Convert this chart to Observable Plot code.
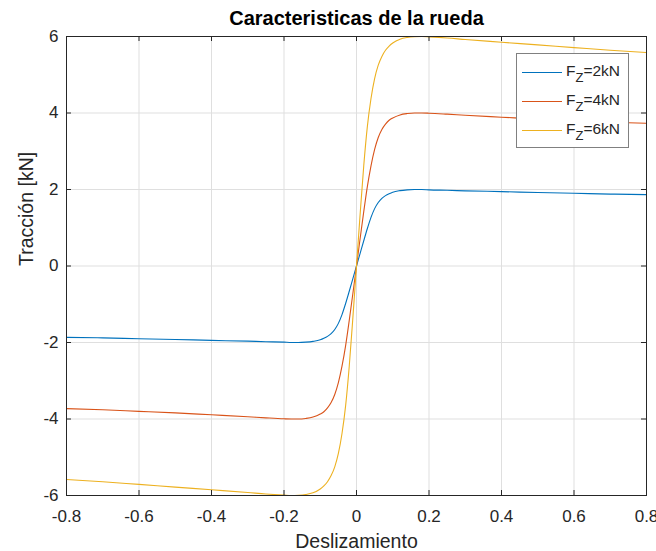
<!DOCTYPE html>
<html>
<head>
<meta charset="utf-8">
<script src="https://cdn.jsdelivr.net/npm/d3@7"></script>
<script src="https://cdn.jsdelivr.net/npm/@observablehq/plot@0.6"></script>
<style>
  html, body { margin: 0; padding: 0; background: #fff; }
  #wrap { position: relative; width: 656px; height: 551px; font-family: "Liberation Sans", Arial, Helvetica, sans-serif; }
  #legend { position: absolute; left: 516px; top: 53px; width: 113px; height: 95px; border: 1px solid #808080; background: #fff; box-sizing: border-box; }
  .row { position: absolute; left: 0; height: 22px; width: 112px; }
  .sw { position: absolute; left: 5px; top: 10px; width: 40px; height: 0; border-top: 1px solid; }
  .lab { position: absolute; left: 49px; top: 0px; font-size: 15.5px; color: #262626; white-space: nowrap; line-height: 18px; }
  .lab sub { font-size: 13px; vertical-align: -6px; line-height: 0; }
</style>
</head>
<body>
<div id="wrap"></div>
<script>
const slip = [-0.8,-0.7,-0.6,-0.5,-0.4,-0.3,-0.25,-0.2,-0.18,-0.16,-0.14,-0.12,-0.1,-0.09,-0.08,-0.07,-0.06,-0.05,-0.04,-0.03,-0.02,-0.01,
  0,
  0.01,0.02,0.03,0.04,0.05,0.06,0.07,0.08,0.09,0.1,0.12,0.14,0.16,0.18,0.2,0.25,0.3,0.4,0.5,0.6,0.7,0.8];
const fz2 = [-1.865,-1.88,-1.90,-1.92,-1.945,-1.965,-1.98,-1.99,-2.00,-2.00,-1.99,-1.97,-1.93,-1.89,-1.84,-1.77,-1.66,-1.50,-1.27,-0.98,-0.66,-0.33,
  0,
  0.33,0.66,0.98,1.27,1.50,1.66,1.77,1.84,1.89,1.93,1.97,1.99,2.00,2.00,1.99,1.98,1.965,1.945,1.92,1.90,1.88,1.865];
const fz4 = [-3.73,-3.76,-3.80,-3.84,-3.89,-3.94,-3.97,-3.995,-4.0,-4.0,-3.985,-3.95,-3.87,-3.81,-3.71,-3.57,-3.36,-3.05,-2.62,-2.08,-1.42,-0.72,
  0,
  0.72,1.42,2.08,2.62,3.05,3.36,3.57,3.71,3.81,3.87,3.95,3.985,4.0,4.0,3.995,3.97,3.94,3.89,3.84,3.80,3.76,3.73];
const fz6 = [-5.58,-5.64,-5.71,-5.78,-5.85,-5.92,-5.96,-5.99,-6.0,-5.995,-5.975,-5.93,-5.83,-5.75,-5.64,-5.48,-5.25,-4.9,-4.38,-3.65,-2.62,-1.35,
  0,
  1.35,2.62,3.65,4.38,4.9,5.25,5.48,5.64,5.75,5.83,5.93,5.975,5.995,6.0,5.99,5.96,5.92,5.85,5.78,5.71,5.64,5.58];
const seriesNames = ["FZ=2kN", "FZ=4kN", "FZ=6kN"];
const seriesLabels = ["2kN", "4kN", "6kN"];
const seriesColors = ["#0072BD", "#D95319", "#EDB120"];
const xTicks = [-0.8,-0.6,-0.4,-0.2,0,0.2,0.4,0.6,0.8];
const yTicks = [-6,-4,-2,0,2,4,6];
const title = "Caracteristicas de la rueda";
const xLabel = "Deslizamiento";
const yLabel = "Tracción [kN]";

const allSeries = [fz2, fz4, fz6];
const data = [];
allSeries.forEach((vals, i) => slip.forEach((s, j) => data.push({slip: s, f: vals[j], series: seriesNames[i]})));

const W = 656, H = 551, mL = 66, mR = 10, mT = 36, mB = 56;
const fw = W - mL - mR, fh = H - mT - mB;
const ink = "#262626";

const chart = Plot.plot({
  width: W, height: H,
  marginLeft: mL, marginRight: mR, marginTop: mT, marginBottom: mB,
  style: {fontFamily: '"Liberation Sans", Arial, Helvetica, sans-serif', background: "#fff", overflow: "visible"},
  x: {domain: [-0.8, 0.8], ticks: xTicks},
  y: {domain: [-6, 6], ticks: yTicks},
  color: {domain: seriesNames, range: seriesColors},
  marks: [
    Plot.gridX(xTicks, {stroke: "#dfdfdf", strokeOpacity: 1}),
    Plot.gridY(yTicks, {stroke: "#dfdfdf", strokeOpacity: 1}),
    Plot.line(data, {x: "slip", y: "f", stroke: "series", strokeWidth: 1.1, curve: "monotone-x", clip: true}),
    Plot.frame({stroke: ink, strokeWidth: 1}),
    Plot.tickX(xTicks, {x: d => d, insetTop: fh - 5, stroke: ink}),
    Plot.tickX(xTicks, {x: d => d, insetBottom: fh - 5, stroke: ink}),
    Plot.tickY(yTicks, {y: d => d, insetRight: fw - 5, stroke: ink}),
    Plot.tickY(yTicks, {y: d => d, insetLeft: fw - 5, stroke: ink}),
    Plot.axisX(xTicks, {anchor: "bottom", tickSize: 0, tickPadding: 14, fontSize: 17, fill: ink, label: null, tickFormat: d => String(d)}),
    Plot.axisY(yTicks, {anchor: "left", tickSize: 0, tickPadding: 8, fontSize: 17, fill: ink, label: null, tickFormat: d => String(d)}),
    Plot.text([title], {frameAnchor: "top", dy: -18, fontSize: 20, fontWeight: "bold", fill: "#000", lineAnchor: "middle"}),
    Plot.text([xLabel], {frameAnchor: "bottom", dy: 46, fontSize: 19.5, fill: ink, lineAnchor: "middle"}),
    Plot.text([yLabel], {frameAnchor: "left", dx: -40, rotate: -90, fontSize: 19.5, fill: ink, lineAnchor: "middle"})
  ]
});

const wrap = document.getElementById("wrap");
wrap.appendChild(chart);

const legend = document.createElement("div");
legend.id = "legend";
seriesLabels.forEach((lab, i) => {
  const row = document.createElement("div");
  row.className = "row";
  row.style.top = (8 + i * 29) + "px";
  row.innerHTML = `<div class="sw" style="border-color:${seriesColors[i]}"></div><div class="lab">F<sub>Z</sub>=${lab}</div>`;
  legend.appendChild(row);
});
wrap.appendChild(legend);
</script>
</body>
</html>
